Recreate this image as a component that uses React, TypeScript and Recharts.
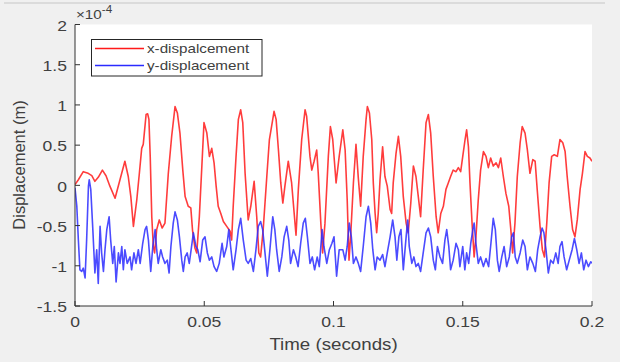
import React from 'react';
import { LineChart, Line, XAxis, YAxis, CartesianGrid } from 'recharts';

// axis ticks
const xTicks = [0, 0.05, 0.1, 0.15, 0.2];
const yTicks = [-1.5, -1, -0.5, 0, 0.5, 1, 1.5, 2];

// x-displacement (values in units of 1e-4 m)
const redTime = [
    0.0000, 0.0013, 0.0032, 0.0051, 0.0065, 0.0077, 0.0090, 0.0106, 0.0120, 0.0135,
    0.0155, 0.0174, 0.0193, 0.0206, 0.0216, 0.0226, 0.0239, 0.0249, 0.0258, 0.0264,
    0.0275, 0.0281, 0.0286, 0.0291, 0.0297, 0.0303, 0.0308, 0.0316, 0.0326, 0.0337,
    0.0348, 0.0361, 0.0374, 0.0387, 0.0396, 0.0406, 0.0417, 0.0426, 0.0438, 0.0448,
    0.0455, 0.0464, 0.0471, 0.0481, 0.0490, 0.0499, 0.0510, 0.0520, 0.0529, 0.0538,
    0.0546, 0.0554, 0.0564, 0.0574, 0.0587, 0.0600, 0.0606, 0.0612, 0.0623, 0.0632,
    0.0641, 0.0649, 0.0658, 0.0670, 0.0680, 0.0693, 0.0703, 0.0711, 0.0718, 0.0728,
    0.0742, 0.0752, 0.0765, 0.0770, 0.0778, 0.0787, 0.0796, 0.0804, 0.0812, 0.0825,
    0.0838, 0.0855, 0.0864, 0.0877, 0.0890, 0.0896, 0.0909, 0.0916, 0.0925, 0.0935,
    0.0941, 0.0951, 0.0958, 0.0967, 0.0980, 0.0988, 0.0997, 0.1010, 0.1022, 0.1036,
    0.1045, 0.1053, 0.1060, 0.1067, 0.1077, 0.1087, 0.1096, 0.1105, 0.1115, 0.1126,
    0.1131, 0.1139, 0.1148, 0.1154, 0.1161, 0.1167, 0.1173, 0.1180, 0.1190, 0.1199,
    0.1208, 0.1219, 0.1225, 0.1231, 0.1242, 0.1251, 0.1260, 0.1270, 0.1281, 0.1289,
    0.1299, 0.1309, 0.1319, 0.1328, 0.1337, 0.1347, 0.1358, 0.1367, 0.1376, 0.1386,
    0.1397, 0.1405, 0.1415, 0.1425, 0.1435, 0.1444, 0.1453, 0.1463, 0.1474, 0.1483,
    0.1492, 0.1500, 0.1509, 0.1515, 0.1522, 0.1528, 0.1536, 0.1544, 0.1551, 0.1560,
    0.1569, 0.1580, 0.1590, 0.1599, 0.1608, 0.1618, 0.1629, 0.1638, 0.1647, 0.1657,
    0.1667, 0.1678, 0.1686, 0.1693, 0.1702, 0.1711, 0.1722, 0.1730, 0.1741, 0.1750,
    0.1760, 0.1771, 0.1780, 0.1788, 0.1799, 0.1808, 0.1816, 0.1825, 0.1834, 0.1844,
    0.1854, 0.1866, 0.1876, 0.1887, 0.1896, 0.1904, 0.1915, 0.1925, 0.1934, 0.1943,
    0.1954, 0.1963, 0.1973, 0.1982, 0.1992, 0.2000,
];
const redValue = [
    0.01, 0.07, 0.17, 0.15, 0.12, 0.05, 0.10, 0.19, 0.12, -0.01,
    -0.16, 0.07, 0.30, 0.11, -0.14, -0.51, -0.18, 0.15, 0.46, 0.51,
    0.88, 0.89, 0.82, 0.36, -0.39, -0.76, -0.84, -0.55, -0.43, -0.53,
    -0.47, 0.15, 0.61, 0.98, 0.90, 0.65, 0.19, -0.14, -0.26, -0.28,
    -0.57, -0.78, -0.84, -0.39, 0.19, 0.78, 0.65, 0.36, 0.46, 0.28,
    -0.01, -0.26, -0.35, -0.45, -0.51, -0.57, -0.68, -0.26, 0.36, 0.82,
    0.94, 0.78, 0.15, -0.43, -0.26, 0.05, -0.39, -0.84, -0.89, -0.55,
    0.11, 0.57, 0.82, 0.92, 0.82, 0.44, 0.03, -0.22, -0.01, 0.30,
    0.03, -0.62, -0.05, 0.57, 0.94, 0.86, 0.36, 0.19, 0.30, 0.44,
    0.15, -0.47, -0.84, -0.47, 0.36, 0.73, 0.57, 0.03, 0.36, 0.69,
    0.44, -0.18, -0.93, -0.59, 0.03, 0.51, 0.09, -0.26, 0.36, 0.82,
    0.98, 0.90, 0.57, 0.03, -0.35, -0.59, -0.35, 0.07, 0.48, 0.11,
    -0.01, -0.30, -0.35, 0.03, 0.40, 0.61, 0.36, -0.14, -0.47, -0.59,
    -0.22, 0.24, 0.11, -0.14, -0.39, 0.19, 0.78, 0.88, 0.65, 0.11,
    -0.39, -0.59, -0.35, -0.26, -0.05, 0.03, 0.11, 0.19, 0.17, 0.22,
    0.17, 0.36, 0.57, 0.69, 0.48, 0.03, -0.47, -0.89, -0.64, -0.18,
    0.19, 0.42, 0.36, 0.22, 0.34, 0.24, 0.28, 0.22, 0.34, 0.11,
    -0.10, -0.26, -0.55, -0.84, -0.47, 0.11, 0.53, 0.73, 0.65, 0.44,
    0.15, 0.32, 0.30, -0.05, -0.51, -0.80, -0.89, -0.47, 0.03, 0.36,
    0.38, 0.36, 0.57, 0.53, 0.42, 0.11, -0.26, -0.55, -0.64, -0.43,
    -0.05, 0.15, 0.42, 0.36, 0.34, 0.30,
];

// y-displacement (values in units of 1e-4 m)
const blueTime = [
    0.0000, 0.0007, 0.0013, 0.0019, 0.0026, 0.0032, 0.0039, 0.0045, 0.0052, 0.0055,
    0.0061, 0.0069, 0.0077, 0.0084, 0.0090, 0.0097, 0.0103, 0.0110, 0.0116, 0.0123,
    0.0132, 0.0138, 0.0146, 0.0152, 0.0159, 0.0168, 0.0174, 0.0181, 0.0187, 0.0193,
    0.0202, 0.0213, 0.0219, 0.0228, 0.0236, 0.0245, 0.0252, 0.0262, 0.0271, 0.0277,
    0.0284, 0.0293, 0.0301, 0.0310, 0.0316, 0.0322, 0.0332, 0.0339, 0.0348, 0.0357,
    0.0364, 0.0371, 0.0380, 0.0387, 0.0396, 0.0404, 0.0413, 0.0419, 0.0426, 0.0434,
    0.0442, 0.0451, 0.0458, 0.0468, 0.0475, 0.0484, 0.0494, 0.0503, 0.0512, 0.0520,
    0.0529, 0.0538, 0.0548, 0.0558, 0.0569, 0.0576, 0.0587, 0.0595, 0.0602, 0.0612,
    0.0623, 0.0632, 0.0641, 0.0651, 0.0662, 0.0670, 0.0680, 0.0690, 0.0700, 0.0709,
    0.0718, 0.0726, 0.0735, 0.0744, 0.0754, 0.0765, 0.0773, 0.0780, 0.0790, 0.0800,
    0.0809, 0.0819, 0.0827, 0.0834, 0.0845, 0.0854, 0.0863, 0.0873, 0.0883, 0.0891,
    0.0899, 0.0909, 0.0918, 0.0927, 0.0937, 0.0945, 0.0956, 0.0963, 0.0974, 0.0984,
    0.0994, 0.1002, 0.1012, 0.1022, 0.1036, 0.1045, 0.1053, 0.1061, 0.1069, 0.1077,
    0.1087, 0.1096, 0.1105, 0.1115, 0.1126, 0.1135, 0.1144, 0.1152, 0.1161, 0.1169,
    0.1180, 0.1190, 0.1199, 0.1208, 0.1219, 0.1229, 0.1238, 0.1245, 0.1253, 0.1261,
    0.1270, 0.1281, 0.1287, 0.1293, 0.1303, 0.1311, 0.1319, 0.1328, 0.1337, 0.1347,
    0.1358, 0.1367, 0.1376, 0.1386, 0.1394, 0.1402, 0.1412, 0.1422, 0.1431, 0.1438,
    0.1446, 0.1453, 0.1463, 0.1474, 0.1483, 0.1489, 0.1500, 0.1508, 0.1515, 0.1523,
    0.1531, 0.1539, 0.1544, 0.1551, 0.1560, 0.1569, 0.1580, 0.1590, 0.1600, 0.1609,
    0.1618, 0.1626, 0.1634, 0.1641, 0.1651, 0.1660, 0.1670, 0.1680, 0.1689, 0.1696,
    0.1703, 0.1711, 0.1722, 0.1732, 0.1741, 0.1750, 0.1760, 0.1771, 0.1781, 0.1790,
    0.1799, 0.1807, 0.1814, 0.1822, 0.1831, 0.1840, 0.1850, 0.1860, 0.1869, 0.1876,
    0.1884, 0.1892, 0.1902, 0.1912, 0.1923, 0.1932, 0.1941, 0.1950, 0.1959, 0.1968,
    0.1977, 0.1986, 0.1995, 0.2000,
];
const blueValue = [
    -0.03, -0.26, -0.68, -1.05, -1.07, -1.03, -1.15, -0.68, -0.01, 0.07,
    -0.05, -0.55, -1.09, -0.80, -1.22, -0.51, -0.84, -1.07, -0.80, -0.55,
    -0.39, -0.68, -0.97, -0.76, -1.20, -0.84, -0.97, -0.76, -1.05, -0.80,
    -0.97, -0.89, -1.05, -0.84, -0.97, -0.80, -0.97, -0.72, -0.55, -0.51,
    -0.68, -1.07, -0.76, -0.55, -0.80, -0.97, -0.80, -0.89, -0.97, -0.93,
    -1.09, -0.76, -0.47, -0.33, -0.43, -0.64, -0.93, -1.07, -0.89, -0.84,
    -0.97, -0.76, -0.59, -0.76, -0.80, -0.95, -0.68, -0.64, -0.84, -0.93,
    -0.89, -1.01, -1.07, -0.97, -0.72, -0.89, -0.76, -0.55, -0.76, -1.05,
    -0.80, -0.55, -0.41, -0.68, -0.93, -0.97, -0.91, -1.07, -0.80, -0.51,
    -0.45, -0.55, -0.84, -1.13, -0.80, -0.39, -0.55, -0.80, -1.07, -0.89,
    -0.64, -0.51, -0.68, -0.97, -0.80, -0.89, -1.01, -0.72, -0.47, -0.41,
    -0.64, -0.97, -0.89, -1.05, -0.89, -1.01, -0.55, -0.76, -0.97, -0.80,
    -0.72, -0.64, -1.13, -0.80, -0.80, -0.93, -0.76, -0.47, -0.64, -0.97,
    -0.89, -0.97, -1.07, -0.76, -0.39, -0.26, -0.47, -0.80, -1.05, -0.89,
    -0.93, -0.86, -1.01, -0.84, -0.64, -0.43, -0.64, -0.93, -0.64, -0.55,
    -1.05, -0.64, -0.43, -0.76, -0.97, -0.89, -1.01, -0.97, -1.07, -0.84,
    -0.59, -0.53, -0.64, -0.93, -1.05, -0.76, -0.89, -0.97, -0.68, -0.55,
    -0.76, -1.05, -0.93, -0.72, -0.80, -1.01, -0.76, -1.05, -0.84, -0.97,
    -0.72, -0.55, -0.47, -0.72, -0.97, -0.89, -1.01, -0.91, -1.01, -0.72,
    -0.41, -0.55, -0.93, -1.07, -0.89, -0.76, -1.01, -0.89, -0.64, -0.59,
    -0.89, -0.97, -0.84, -0.68, -0.76, -1.05, -0.89, -0.97, -1.07, -0.80,
    -0.64, -0.53, -0.59, -0.80, -1.09, -0.93, -0.97, -0.84, -0.97, -0.76,
    -0.70, -0.89, -1.05, -0.93, -0.80, -0.66, -0.80, -0.97, -0.84, -1.05,
    -0.93, -1.01, -0.95, -0.97,
];

const redData = redTime.map((t, i) => ({ t, v: redValue[i] }));
const blueData = blueTime.map((t, i) => ({ t, v: blueValue[i] }));

const FONT = '"Liberation Sans", Arial, Helvetica, sans-serif';
const TEXT = '#404040';
const AXIS = '#333333';
const STRETCH = 1.17; // the reference is a bit wide horizontally

const XTick = ({ x, y, payload }: any) => (
    <g transform={`translate(${x},${y}) scale(${STRETCH},1)`}>
        <text x={0} y={21.5} textAnchor="middle" fontFamily={FONT} fontSize={15} fill={TEXT}>
            {String(payload.value)}
        </text>
    </g>
);

const YTick = ({ x, y, payload }: any) => (
    <g transform={`translate(${x},${y}) scale(${STRETCH},1)`}>
        <text x={0} y={6.2} textAnchor="end" fontFamily={FONT} fontSize={15} fill={TEXT}>
            {String(payload.value)}
        </text>
    </g>
);

const StretchText = ({ x, y, size, children, anchor = 'start' }: any) => (
    <g transform={`translate(${x},${y}) scale(${STRETCH},1)`}>
        <text x={0} y={0} textAnchor={anchor} fontFamily={FONT} fontSize={size} fill={TEXT}>
            {children}
        </text>
    </g>
);

export default function App() {
    return (
        <div style={{ position: 'fixed', left: 0, top: 0, width: 620, height: 362, background: '#f0f0f0' }}>
            <LineChart width={620} height={362} data={redData}
                margin={{ top: 24.5, right: 28, bottom: 26, left: 15 }}>
                <CartesianGrid fill="#ffffff" stroke="none" horizontal={false} vertical={false} />
                <XAxis type="number" dataKey="t" domain={[0, 0.2]} ticks={xTicks} interval={0}
                    allowDataOverflow height={30} tick={<XTick />} tickSize={-5} tickMargin={5}
                    axisLine={{ stroke: AXIS }} tickLine={{ stroke: AXIS }} />
                <XAxis xAxisId="top" orientation="top" type="number" dataKey="t" domain={[0, 0.2]}
                    ticks={xTicks} interval={0} allowDataOverflow height={0} tick={false} tickSize={-5}
                    axisLine={{ stroke: AXIS }} tickLine={{ stroke: AXIS }} />
                <YAxis type="number" domain={[-1.5, 2]} ticks={yTicks} interval={0} allowDataOverflow
                    width={60} tick={<YTick />} tickSize={-5} tickMargin={13}
                    axisLine={{ stroke: AXIS }} tickLine={{ stroke: AXIS }} />
                <YAxis yAxisId="right" orientation="right" type="number" domain={[-1.5, 2]} ticks={yTicks}
                    interval={0} allowDataOverflow width={0} tick={false} tickSize={-5}
                    axisLine={{ stroke: AXIS, strokeWidth: 1.5 }} tickLine={{ stroke: AXIS }} />
                <Line data={redData} dataKey="v" type="linear" stroke="#ff1a1a" strokeWidth={1.6}
                    strokeOpacity={0.85} strokeLinejoin="round" dot={false} isAnimationActive={false} />
                <Line data={blueData} dataKey="v" type="linear" stroke="#2b2bff" strokeWidth={1.6}
                    strokeOpacity={0.85} strokeLinejoin="round" dot={false} isAnimationActive={false} />
            </LineChart>
            <svg width={620} height={362} style={{ position: 'absolute', left: 0, top: 0, pointerEvents: 'none' }}>
                <line x1={4} y1={3} x2={605} y2={3} stroke="#d4d4d4" strokeWidth={1.5} />
                <g transform={`translate(76,19) scale(${STRETCH},1)`}>
                    <text fontFamily={FONT} fontSize={13} fill={TEXT}>
                        ×10<tspan dy={-6} fontSize={10}>-4</tspan>
                    </text>
                </g>
                <text transform="translate(25,165) rotate(-90)" textAnchor="middle" fontFamily={FONT}
                    fontSize={16.5} fill={TEXT}>Displacement (m)</text>
                <StretchText x={333.5} y={349.5} size={16} anchor="middle">Time (seconds)</StretchText>
                <rect x={91.5} y={39.5} width={170.5} height={36.5} fill="#ffffff" stroke="#262626" strokeWidth={1} />
                <line x1={95} y1={48.5} x2={144} y2={48.5} stroke="#ff1a1a" strokeWidth={1.3} />
                <line x1={95} y1={65.5} x2={144} y2={65.5} stroke="#2b2bff" strokeWidth={1.3} />
                <StretchText x={147} y={52.8} size={13}>x-dispalcement</StretchText>
                <StretchText x={147} y={70.2} size={13}>y-displacement</StretchText>
            </svg>
        </div>
    );
}
